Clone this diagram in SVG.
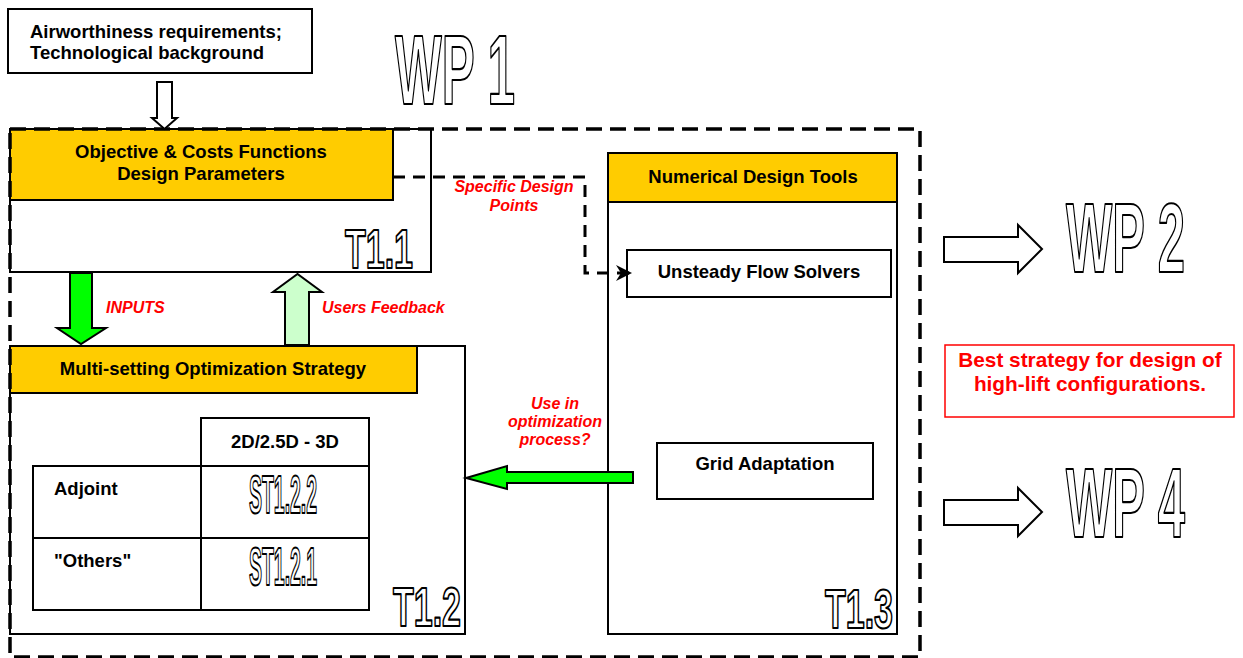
<svg xmlns="http://www.w3.org/2000/svg" width="1243" height="658" viewBox="0 0 1243 658">
<style>
.box{fill:#fff;stroke:#000;stroke-width:2}
.hdr{fill:#ffcc00;stroke:#000;stroke-width:2}
.t{font-family:"Liberation Sans",Arial,sans-serif;font-weight:bold;font-size:18.5px;fill:#000}
.r{font-family:"Liberation Sans",Arial,sans-serif;font-weight:bold;font-style:italic;font-size:16px;fill:#ff0000}
.rb{font-family:"Liberation Sans",Arial,sans-serif;font-weight:bold;font-size:20.8px;fill:#ff0000}
.big{font-family:"Liberation Sans",Arial,sans-serif;font-weight:bold;fill:#fff;stroke:#000;stroke-width:2.2;stroke-linejoin:round}
.hol{fill:#fff;stroke:#000;stroke-width:2}
</style>
<defs>
<marker id="ah" viewBox="0 0 16 16" refX="15" refY="8" markerWidth="16" markerHeight="16" markerUnits="userSpaceOnUse" orient="auto">
<path d="M0,0 L16,8 L0,16 L5,8 Z" fill="#000"/>
</marker>
</defs>

<g id="wp1">
<text class="big" x="0" y="0" font-size="98" transform="translate(395,104) scale(0.505,1)">WP 1</text>
</g>

<g id="input-box">
<rect class="box" x="8" y="9" width="304" height="64"/>
<text class="t" x="30" y="38">Airworthiness requirements;</text>
<text class="t" x="30" y="59">Technological background</text>
</g>

<g id="t11">
<rect class="box" x="10" y="129" width="421" height="143"/>
<rect class="hdr" x="10" y="129" width="383" height="71"/>
<text class="t" x="201" y="158" text-anchor="middle">Objective &amp; Costs Functions</text>
<text class="t" x="201" y="180" text-anchor="middle">Design Parameters</text>
<text class="big" x="0" y="0" font-size="55" transform="translate(345,268) scale(0.618,1)">T1.1</text>
</g>

<g id="t12">
<rect class="box" x="10" y="346" width="455" height="288"/>
<rect class="hdr" x="10" y="346" width="407" height="47"/>
<text class="t" x="213" y="375" text-anchor="middle">Multi-setting Optimization Strategy</text>
<rect class="box" x="201" y="418" width="168" height="48"/>
<rect class="box" x="33" y="466" width="336" height="72"/>
<rect class="box" x="33" y="538" width="336" height="72"/>
<line x1="201" y1="466" x2="201" y2="610" stroke="#000" stroke-width="2"/>
<text class="t" x="285" y="448" text-anchor="middle">2D/2.5D - 3D</text>
<text class="t" x="54" y="495">Adjoint</text>
<text class="t" x="54" y="567">"Others"</text>
<text class="big" x="0" y="0" font-size="54" stroke-width="1.9" transform="translate(249,513) scale(0.36,1)">ST1.2.2</text>
<text class="big" x="0" y="0" font-size="54" stroke-width="1.9" transform="translate(249,585) scale(0.36,1)">ST1.2.1</text>
<text class="big" x="0" y="0" font-size="55" transform="translate(393,626) scale(0.618,1)">T1.2</text>
</g>

<g id="t13">
<rect class="box" x="608" y="153" width="289" height="481"/>
<rect class="hdr" x="608" y="153" width="289" height="49"/>
<text class="t" x="753" y="183" text-anchor="middle">Numerical Design Tools</text>
<rect class="box" x="627" y="250" width="264" height="47"/>
<text class="t" x="759" y="278" text-anchor="middle">Unsteady Flow Solvers</text>
<rect class="box" x="657" y="443" width="216" height="56"/>
<text class="t" x="765" y="470" text-anchor="middle">Grid Adaptation</text>
<text class="big" x="0" y="0" font-size="55" transform="translate(825,628) scale(0.618,1)">T1.3</text>
</g>

<g id="wp1-frame">
<rect x="10" y="129" width="910" height="528" fill="none" stroke="#000" stroke-width="3.5" stroke-dasharray="16 8"/>
</g>

<g id="result">
<rect x="945" y="345" width="289" height="72" fill="#fff" stroke="#ff0000" stroke-width="1.5"/>
<text class="rb" x="1090" y="367" text-anchor="middle">Best strategy for design of</text>
<text class="rb" x="1090" y="391" text-anchor="middle">high-lift configurations.</text>
</g>

<g id="wp2">
<text class="big" x="0" y="0" font-size="98" transform="translate(1066,272) scale(0.5,1)">WP 2</text>
</g>
<g id="wp4">
<text class="big" x="0" y="0" font-size="98" transform="translate(1066,537) scale(0.5,1)">WP 4</text>
</g>

<g id="connectors">
<path class="hol" d="M157,82 H172 V118 H177 L164.5,129 L152,118 H157 Z"/>
<path d="M393,177 H585 V273 H631" fill="none" stroke="#000" stroke-width="3" stroke-dasharray="12 8" marker-end="url(#ah)"/>
<path d="M70,273 H92 V328 H106 L81,344 L57,328 H70 Z" fill="#00ff00" stroke="#000" stroke-width="2"/>
<path d="M285,345 H309 V292 H322 L297.5,274 L273,292 H285 Z" fill="#ccffcc" stroke="#000" stroke-width="2"/>
<path d="M633,472 H507 V466 L466,478 L507,489 V483 H633 Z" fill="#00ff00" stroke="#000" stroke-width="2"/>
<path class="hol" d="M944,237 H1018 V225 L1042,249 L1018,273 V262 H944 Z"/>
<path class="hol" d="M944,500 H1018 V488 L1042,512 L1018,536 V525 H944 Z"/>
<text class="r" x="514" y="192" text-anchor="middle">Specific Design</text>
<text class="r" x="514" y="211" text-anchor="middle">Points</text>
<text class="r" x="106" y="313">INPUTS</text>
<text class="r" x="322" y="313">Users Feedback</text>
<text class="r" x="555" y="409" text-anchor="middle">Use in</text>
<text class="r" x="555" y="427" text-anchor="middle">optimization</text>
<text class="r" x="555" y="445" text-anchor="middle">process?</text>
</g>
</svg>
